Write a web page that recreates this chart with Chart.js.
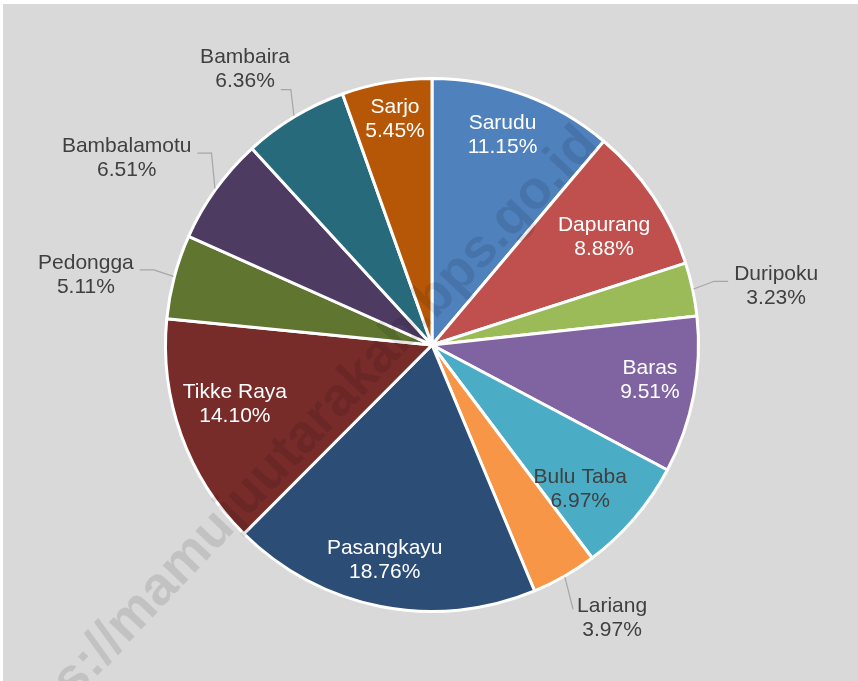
<!DOCTYPE html>
<html>
<head>
<meta charset="utf-8">
<script src="https://cdn.jsdelivr.net/npm/chart.js@4"></script>
<style>
  html, body { margin: 0; padding: 0; background: #ffffff; }
  canvas { display: block; }
</style>
</head>
<body>
<canvas id="pieChart" width="858" height="681"></canvas>
<script>
const districts = ['Sarudu', 'Dapurang', 'Duripoku', 'Baras', 'Bulu Taba', 'Lariang',
  'Pasangkayu', 'Tikke Raya', 'Pedongga', 'Bambalamotu', 'Bambaira', 'Sarjo'];
const shares = [11.15, 8.88, 3.23, 9.51, 6.97, 3.97, 18.76, 14.10, 5.11, 6.51, 6.36, 5.45];

const sliceColors = ['#4f81bd', '#c0504d', '#9bbb59', '#8064a2', '#4bacc6', '#f79646',
  '#2c4d75', '#772c2a', '#5f7530', '#4d3b62', '#276a7c', '#b65708'];
// label placement: inside the slice or outside with a leader line
const labelPlace = ['in', 'in', 'out', 'in', 'in', 'out', 'in', 'in', 'out', 'out', 'out', 'in'];
const labelColor = ['#ffffff', '#ffffff', '#404040', '#ffffff', '#404040', '#404040',
  '#ffffff', '#ffffff', '#404040', '#404040', '#404040', '#ffffff'];
// label distance from centre (fraction of radius) and small turn off the slice middle (degrees)
const labelRadius = [0.831, 0.761, 1.31, 0.828, 0.776, 1.228, 0.825, 0.772, 1.325, 1.343, 1.249, 0.858];
const labelTurn = [-1.5, 1.9, 2.4, -1.8, 3.7, -3.6, 1.3, 3.1, -3.4, -4.3, -3.1, 0.5];

const FONT = '21px "Liberation Sans", Arial, sans-serif';
const LINE_GAP = 24;

const background = {
  id: 'background',
  beforeDraw(chart) {
    const ctx = chart.ctx;
    ctx.save();
    ctx.fillStyle = '#d9d9d9';
    ctx.fillRect(3, 4, chart.width - 3, chart.height - 4);
    ctx.restore();
  }
};

const sliceLabels = {
  id: 'sliceLabels',
  afterDatasetsDraw(chart) {
    const ctx = chart.ctx;
    const arcs = chart.getDatasetMeta(0).data;
    ctx.save();
    ctx.font = FONT;
    ctx.textBaseline = 'middle';
    ctx.textAlign = 'center';
    arcs.forEach((arc, i) => {
      const p = arc.getProps(['x', 'y', 'startAngle', 'endAngle', 'outerRadius']);
      const mid = (p.startAngle + p.endAngle) / 2;
      const cos = Math.cos(mid), sin = Math.sin(mid);
      const la = mid + labelTurn[i] * Math.PI / 180;
      const tx = p.x + Math.cos(la) * p.outerRadius * labelRadius[i];
      const ty = p.y + Math.sin(la) * p.outerRadius * labelRadius[i];
      const lines = [districts[i], shares[i].toFixed(2) + '%'];
      const y1 = ty - LINE_GAP / 2, y2 = ty + LINE_GAP / 2;

      if (labelPlace[i] === 'out') {
        const w1 = ctx.measureText(lines[0]).width;
        const w2 = ctx.measureText(lines[1]).width;
        const w = Math.max(w1, w2);
        const sx = p.x + cos * (p.outerRadius + 1);
        const sy = p.y + sin * (p.outerRadius + 1);
        const side = cos > 0 ? -1 : 1;   // which way the pie lies from the label
        let ax, ay, ex, ey;
        if (Math.abs(sin) > 0.8 && sin > 0) {
          // below the pie: straight line to the first line
          ax = tx + side * (w1 / 2 + 4); ay = y1 + 3;
          ex = ax; ey = ay;
        } else if (Math.abs(sin) > 0.8) {
          // above the pie: hook onto the second line
          ax = tx + side * (w2 / 2 + 6); ay = y2 + 8;
          ex = ax + side * 10; ey = ay;
        } else {
          ax = tx + side * (w / 2 + 6); ay = ty - 5;
          ex = ax + side * 14; ey = ay;
        }
        ctx.strokeStyle = '#a6a6a6';
        ctx.lineWidth = 1.2;
        ctx.beginPath();
        ctx.moveTo(sx, sy);
        ctx.lineTo(ex, ey);
        ctx.lineTo(ax, ay);
        ctx.stroke();
      }
      ctx.fillStyle = labelColor[i];
      ctx.fillText(lines[0], tx, y1);
      ctx.fillText(lines[1], tx, y2);
    });
    ctx.restore();
  }
};

const watermark = {
  id: 'watermark',
  afterDraw(chart) {
    const ctx = chart.ctx;
    ctx.save();
    ctx.translate(600, 146);
    ctx.rotate(-46.5 * Math.PI / 180);
    ctx.font = 'bold 54px "Liberation Sans", Arial, sans-serif';
    ctx.fillStyle = 'rgba(0, 0, 0, 0.1)';
    ctx.textAlign = 'right';
    ctx.textBaseline = 'alphabetic';
    ctx.fillText('https://mamujuutarakab.bps.go.id', 0, 0);
    ctx.restore();
  }
};

new Chart(document.getElementById('pieChart'), {
  type: 'pie',
  data: {
    labels: districts,
    datasets: [{
      data: shares,
      backgroundColor: sliceColors,
      borderColor: '#ffffff',
      borderWidth: 3
    }]
  },
  options: {
    responsive: false,
    animation: false,
    layout: { padding: { top: 77, bottom: 68, left: 6, right: 0 } },
    plugins: {
      legend: { display: false },
      tooltip: { enabled: false }
    }
  },
  plugins: [background, sliceLabels, watermark]
});
</script>
</body>
</html>
